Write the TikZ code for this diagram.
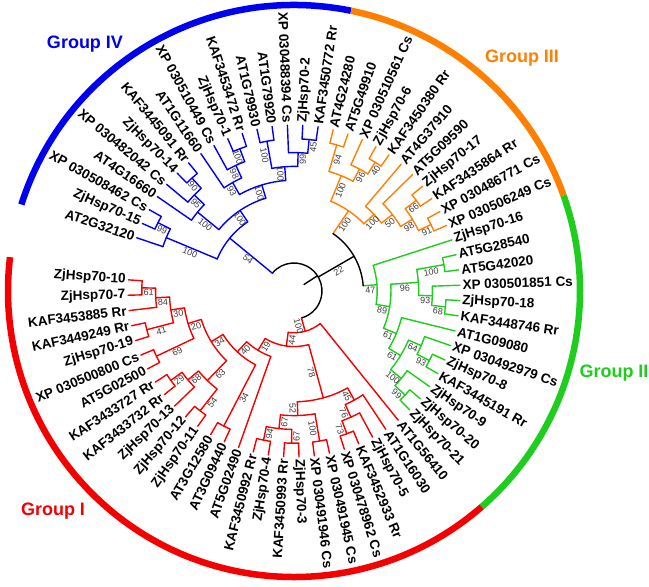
\documentclass[tikz,border=0pt]{standalone}
\usepackage{fontspec}
\setmainfont{Liberation Sans}
\usepackage{tikz}

\definecolor{grpI}{RGB}{245,0,0}
\definecolor{grpII}{RGB}{30,205,30}
\definecolor{grpIII}{RGB}{255,128,0}
\definecolor{grpIV}{RGB}{0,0,240}
\definecolor{bootgray}{RGB}{60,60,60}

\tikzset{
  branch/.style={line width=1.4pt,line cap=round},
  leaftext/.style={font=\bfseries\fontsize{13.5}{13.5}\selectfont,inner sep=2.5pt},
  boot/.style={font=\fontsize{9}{9}\selectfont,text=bootgray,inner sep=1.5pt,anchor=north},
  ring/.style={line width=6.5pt},
  grouplabel/.style={font=\bfseries\fontsize{18}{18}\selectfont}
}

\newcommand\Rtip{166}
\newcommand\hstep{13.8}

\newcommand\leafnode[4]{%
  \pgfmathsetmacro\phL{161.3-5.31*#2}%
  \expandafter\xdef\csname ang@#1\endcsname{\phL}%
  \expandafter\xdef\csname rad@#1\endcsname{\Rtip}%
  \expandafter\xdef\csname bs@#1\endcsname{}%
  \expandafter\xdef\csname col@#1\endcsname{#4}%
  \coordinate (#1) at (\phL:\Rtip pt);
  \ifdim\phL pt>90pt \pgfmathsetmacro\phLr{\phL+180}\node[leaftext,anchor=east,rotate=\phLr] (t#1) at (#1) {#3};%
  \else\ifdim\phL pt<-90pt \pgfmathsetmacro\phLr{\phL+180}\node[leaftext,anchor=east,rotate=\phLr] (t#1) at (#1) {#3};%
  \else \node[leaftext,anchor=west,rotate=\phL] (t#1) at (#1) {#3};\fi\fi
}

\newcommand\bootlabel[2]{%
  \edef\phBs{\csname bs@#1\endcsname}%
  \ifx\phBs\empty\else
    \edef\phBa{\csname ang@#1\endcsname}%
    \pgfmathsetmacro\phBm{(#2+\csname rad@#1\endcsname)/2}%
    \ifdim\phBa pt>90pt \pgfmathsetmacro\phBr{\phBa+180}%
    \else\ifdim\phBa pt<-90pt \pgfmathsetmacro\phBr{\phBa+180}%
    \else\pgfmathsetmacro\phBr{\phBa}\fi\fi
    \node[boot,rotate=\phBr] at (\phBa:\phBm pt) {\phBs};
  \fi
}

\newcommand\cladenode[6]{%
  \edef\phA{\csname ang@#2\endcsname}%
  \edef\phB{\csname ang@#3\endcsname}%
  \edef\phCa{\csname col@#2\endcsname}%
  \edef\phCb{\csname col@#3\endcsname}%
  \pgfmathsetmacro\phM{(\phA+\phB)/2}%
  \pgfmathsetmacro\phR{\Rtip-\hstep*#4}%
  \expandafter\xdef\csname ang@#1\endcsname{\phM}%
  \expandafter\xdef\csname rad@#1\endcsname{\phR}%
  \expandafter\xdef\csname bs@#1\endcsname{#5}%
  \expandafter\xdef\csname col@#1\endcsname{#6}%
  \coordinate (#1) at (\phM:\phR pt);
  \draw[branch,draw=\phCa] (#2) -- (\phA:\phR pt);
  \draw[branch,draw=\phCb] (#3) -- (\phB:\phR pt);
  \draw[branch,draw=#6] (\phA:\phR pt) arc[start angle=\phA,end angle=\phB,radius=\phR pt];
  \bootlabel{#2}{\phR}\bootlabel{#3}{\phR}%
}

\begin{document}
\begin{tikzpicture}
\useasboundingbox (-294pt,-296pt) rectangle (355pt,291pt);

\draw[ring,grpIV] (162.4:286pt) arc[start angle=162.4,end angle=78.5,radius=286pt];
\draw[ring,grpIII] (78.5:286pt) arc[start angle=78.5,end angle=19.5,radius=286pt];
\draw[ring,grpII] (19.5:286pt) arc[start angle=19.5,end angle=-49,radius=286pt];
\draw[ring,grpI] (-49:286pt) arc[start angle=-49,end angle=-186.8,radius=286pt];

\node[grouplabel,text=grpIV] (gIV) at (-209pt,247pt) {Group IV};
\node[grouplabel,text=grpIII] (gIII) at (228pt,233pt) {Group III};
\node[grouplabel,text=grpII] (gII) at (320pt,-82pt) {Group II};
\node[grouplabel,text=grpI] (gI) at (-241pt,-220pt) {Group I};

\foreach \i/\t in {0/AT2G32120,1/ZjHsp70-15,2/XP 030508462 Cs,3/AT4G16660,
  4/XP 030482042 Cs,5/ZjHsp70-14,6/KAF3445091 Rr,7/AT1G11660,8/XP 030510449 Cs,
  9/ZjHsp70-1,10/KAF3453472 Rr,11/AT1G79930,12/AT1G79920,13/XP 030488394 Cs,
  14/ZjHsp70-2,15/KAF3450772 Rr}
  {\leafnode{l\i}{\i}{\t}{grpIV}}
\foreach \i/\t in {16/AT4G24280,17/AT5G49910,18/XP 030510561 Cs,19/ZjHsp70-6,
  20/KAF3450380 Rr,21/AT4G37910,22/AT5G09590,23/ZjHsp70-17,24/KAF3435864 Rr,
  25/XP 030486771 Cs,26/XP 030506249 Cs}
  {\leafnode{l\i}{\i}{\t}{grpIII}}
\foreach \i/\t in {27/ZjHsp70-16,28/AT5G28540,29/AT5G42020,30/XP 030501851 Cs,
  31/ZjHsp70-18,32/KAF3448746 Rr,33/AT1G09080,34/XP 030492979 Cs,35/ZjHsp70-8,
  36/KAF3445191 Rr,37/ZjHsp70-9,38/ZjHsp70-20,39/ZjHsp70-21}
  {\leafnode{l\i}{\i}{\t}{grpII}}
\foreach \i/\t in {40/AT1G56410,41/AT1G16030,42/ZjHsp70-5,43/KAF3452933 Rr,
  44/XP 030478962 Cs,45/XP 030491945 Cs,46/XP 030491946 Cs,47/ZjHsp70-3,
  48/KAF3450993 Rr,49/ZjHsp70-4,50/KAF3450992 Rr,51/AT5G02490,52/AT3G09440,
  53/AT3G12580,54/ZjHsp70-11,55/ZjHsp70-12,56/ZjHsp70-13,57/KAF3433732 Rr,
  58/KAF3433727 Rr,59/AT5G02500,60/XP 030500800 Cs,61/ZjHsp70-19,
  62/KAF3449249 Rr,63/KAF3453885 Rr,64/ZjHsp70-7,65/ZjHsp70-10}
  {\leafnode{l\i}{\i}{\t}{grpI}}

\cladenode{B1}{l1}{l2}{1}{99}{grpIV}
\cladenode{B2}{l0}{B1}{2}{100}{grpIV}
\cladenode{B3}{l5}{l6}{1}{90}{grpIV}
\cladenode{B4}{l4}{B3}{2}{95}{grpIV}
\cladenode{B5}{l3}{B4}{3}{100}{grpIV}
\cladenode{B6}{l9}{l10}{1}{100}{grpIV}
\cladenode{B7}{l8}{B6}{2}{98}{grpIV}
\cladenode{B8}{l7}{B7}{3}{93}{grpIV}
\cladenode{B9}{l11}{l12}{1}{100}{grpIV}
\cladenode{B10}{l14}{l15}{1}{45}{grpIV}
\cladenode{B11}{l13}{B10}{2}{99}{grpIV}
\cladenode{B12}{B9}{B11}{3}{100}{grpIV}
\cladenode{B13}{B8}{B12}{4}{100}{grpIV}
\cladenode{B14}{B5}{B13}{5}{100}{grpIV}
\cladenode{BR}{B2}{B14}{6}{54}{grpIV}

\cladenode{O1}{l16}{l17}{1}{94}{grpIII}
\cladenode{O2}{l19}{l20}{1}{40}{grpIII}
\cladenode{O3}{l18}{O2}{2}{96}{grpIII}
\cladenode{O4}{O1}{O3}{3}{100}{grpIII}
\cladenode{O5}{l23}{l24}{1}{66}{grpIII}
\cladenode{O6}{l25}{l26}{1}{91}{grpIII}
\cladenode{O7}{O5}{O6}{2}{98}{grpIII}
\cladenode{O8}{l22}{O7}{3}{50}{grpIII}
\cladenode{O9}{l21}{O8}{4}{100}{grpIII}
\cladenode{OR}{O4}{O9}{5}{100}{grpIII}

\cladenode{G1}{l28}{l29}{1}{100}{grpII}
\cladenode{G2}{l31}{l32}{1}{68}{grpII}
\cladenode{G3}{l30}{G2}{2}{93}{grpII}
\cladenode{G4}{G1}{G3}{3}{96}{grpII}
\cladenode{G6}{l35}{l36}{1}{93}{grpII}
\cladenode{G7}{l34}{G6}{2}{64}{grpII}
\cladenode{G8}{l38}{l39}{1}{99}{grpII}
\cladenode{G9}{l37}{G8}{2}{100}{grpII}
\cladenode{G10}{G7}{G9}{3}{61}{grpII}
\cladenode{G11}{l33}{G10}{4}{61}{grpII}
\cladenode{G12}{G4}{G11}{5}{89}{grpII}
\cladenode{GR}{l27}{G12}{6}{47}{grpII}

\cladenode{N22}{OR}{GR}{7}{22}{black}

\cladenode{R1}{l50}{l49}{1}{94}{grpI}
\cladenode{R2}{l48}{l47}{1}{67}{grpI}
\cladenode{R3}{R1}{R2}{2}{67}{grpI}
\cladenode{R4}{l46}{l45}{1}{100}{grpI}
\cladenode{R5}{R3}{R4}{3}{52}{grpI}
\cladenode{R6}{l44}{l43}{1}{73}{grpI}
\cladenode{R7}{R6}{l42}{2}{76}{grpI}
\cladenode{R8}{R7}{l41}{3}{45}{grpI}
\cladenode{R9}{R5}{R8}{4}{78}{grpI}
\cladenode{R11}{l65}{l64}{1}{61}{grpI}
\cladenode{R12}{R11}{l63}{2}{84}{grpI}
\cladenode{R13}{l62}{l61}{1}{41}{grpI}
\cladenode{R14}{R12}{R13}{3}{30}{grpI}
\cladenode{R15}{l60}{l59}{1}{69}{grpI}
\cladenode{R16}{R14}{R15}{4}{20}{grpI}
\cladenode{R17}{l58}{l57}{1}{29}{grpI}
\cladenode{R18}{R17}{l56}{2}{68}{grpI}
\cladenode{R19}{l55}{l54}{1}{54}{grpI}
\cladenode{R20}{R18}{R19}{3}{63}{grpI}
\cladenode{R21}{R16}{R20}{5}{34}{grpI}
\cladenode{R22}{l53}{l52}{1}{34}{grpI}
\cladenode{R23}{R21}{R22}{6}{40}{grpI}
\cladenode{R24}{R23}{l51}{7}{19}{grpI}
\cladenode{RX}{R24}{R9}{8}{44}{grpI}
\cladenode{RR}{RX}{l40}{9}{100}{grpI}

\pgfmathsetmacro\phR{\Rtip-\hstep*10}
\edef\phA{\csname ang@BR\endcsname}
\edef\phB{\csname ang@RR\endcsname}
\edef\phC{\csname ang@N22\endcsname}
\pgfmathsetmacro\phM{(\phA+\phB)/2}
\coordinate (root) at (\phM:\phR pt);
\draw[branch] (\phM:12pt) -- (root);
\draw[branch] (\phA:\phR pt) arc[start angle=\phA,end angle=\phB,radius=\phR pt];
\draw[branch,draw=grpIV] (BR) -- (\phA:\phR pt);
\draw[branch] (N22) -- (\phC:\phR pt);
\draw[branch,draw=grpI] (RR) -- (\phB:\phR pt);
\bootlabel{BR}{\phR}\bootlabel{N22}{\phR}\bootlabel{RR}{\phR}
\end{tikzpicture}
\end{document}
